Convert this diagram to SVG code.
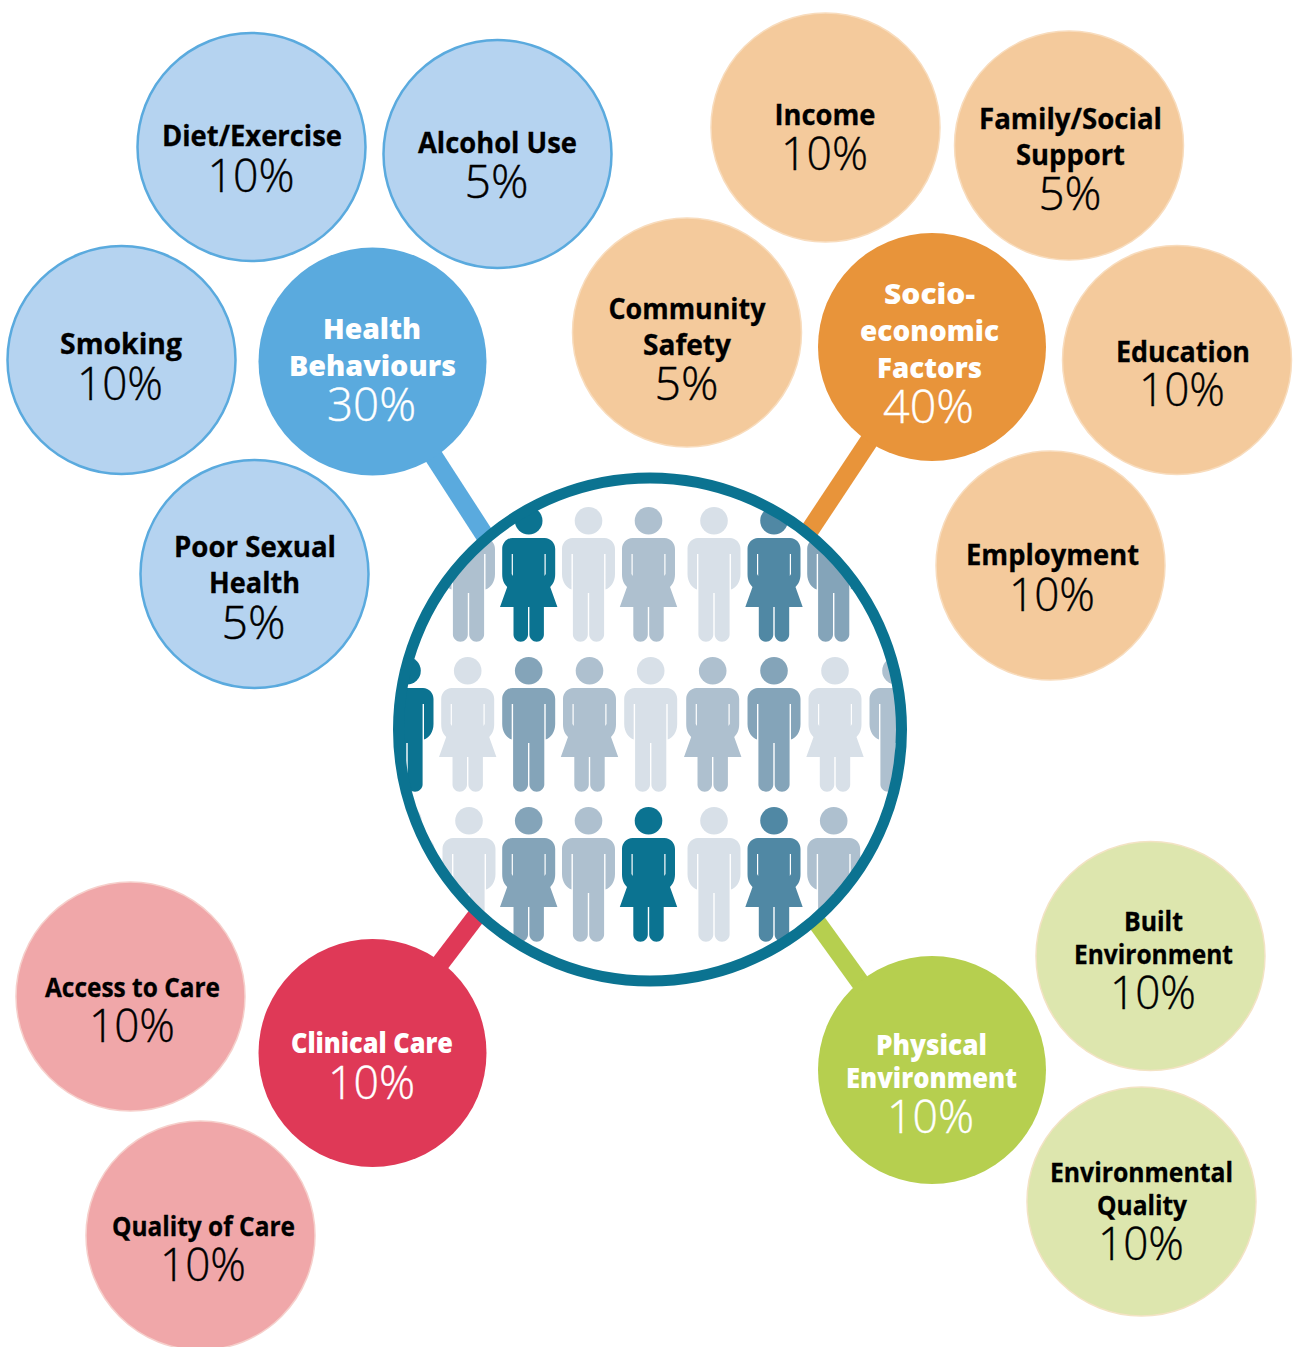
<svg xmlns="http://www.w3.org/2000/svg" xmlns:xlink="http://www.w3.org/1999/xlink" width="1295" height="1347" viewBox="0 0 1295 1347">
<style>
text{text-anchor:middle;font-family:"Open Sans","Noto Sans","Liberation Sans",sans-serif}
.l{font-size:28px;font-weight:700;fill:#000;stroke:#000;stroke-width:.3}
.s{font-size:26px}
.w{font-size:29px;font-weight:800;fill:#fff}
.p{font-size:46px;font-weight:300;fill:#000;stroke:#000;stroke-width:.4}
.pw{font-size:46px;font-weight:300;fill:#fff;stroke:#fff;stroke-width:.4}
.c{stroke-width:18.5;fill:none}
.blue{fill:#B5D3F0;stroke:#5AAADE;stroke-width:2.5}
.org{fill:#F4CA9C;stroke:#F8DCBD;stroke-width:1.5}
.grn{fill:#DDE6AE;stroke:#F3E3C4;stroke-width:1.5}
.red{fill:#F0A7A9;stroke:#F6CFCB;stroke-width:1.5}
.d{fill:#0B7391}.e{fill:#5088A4}.f{fill:#84A4B9}.g{fill:#AEC0CF}.h{fill:#D8E0E8}
</style>
<defs>
<g id="man"><circle cx="0" cy="-17.3" r="13.8"/><path d="M-16,0H16C22,0 26.5,5 26.5,11V36C26.5,44 22,50 17,51.5V16H15.6V96.5C15.6,100.5 12,103.7 8,103.7C4,103.7 .7,100.5 .7,96.5V55H-.7V96.5C-.7,100.5 -4,103.7 -8,103.7C-12,103.7 -15.6,100.5 -15.6,96.5V16H-17V51.5C-22,50 -26.5,44 -26.5,36V11C-26.5,5 -22,0 -16,0Z"/></g>
<g id="woman"><circle cx="0" cy="-17.3" r="13.8"/><path fill-rule="evenodd" d="M-16,0H16C22,0 26.5,5 26.5,11V36C26.5,42 24.5,46 21.5,49L28.7,69H15.2V96.5C15.2,100.5 12,103.7 8,103.7C4,103.7 .7,100.5 .7,96.5V69H-.7V96.5C-.7,100.5 -4,103.7 -8,103.7C-12,103.7 -15.2,100.5 -15.2,96.5V69H-28.7L-21.5,49C-24.5,46 -26.5,42 -26.5,36V11C-26.5,5 -22,0 -16,0ZM-17,16V36L-15.8,38V16ZM15.8,16V38L17,36V16Z"/></g>
<clipPath id="lens"><circle cx="650" cy="729.5" r="248"/></clipPath>
</defs>
<g id="connectors">
<line class="c" stroke="#5AAADE" x1="372" y1="361" x2="500" y2="559"/>
<line class="c" stroke="#E8943A" x1="932" y1="346" x2="800" y2="545"/>
<line class="c" stroke="#DF3957" x1="372" y1="1053" x2="500" y2="885"/>
<line class="c" stroke="#B6CF4F" x1="932" y1="1082" x2="790" y2="885"/>
</g>
<g id="center">
<circle cx="650" cy="729.5" r="250" fill="#fff"/>
<g id="people" clip-path="url(#lens)">
<use href="#man" x="468.5" y="538" class="g"/>
<use href="#woman" x="528.7" y="538" class="d"/>
<use href="#man" x="588.5" y="538" class="h"/>
<use href="#woman" x="648.5" y="538" class="g"/>
<use href="#man" x="714" y="538" class="h"/>
<use href="#woman" x="774" y="538" class="e"/>
<use href="#man" x="833.7" y="538" class="f"/>
<use href="#man" x="407" y="688" class="d"/>
<use href="#woman" x="467.7" y="688" class="h"/>
<use href="#man" x="528.7" y="688" class="f"/>
<use href="#woman" x="589.5" y="688" class="g"/>
<use href="#man" x="650.7" y="688" class="h"/>
<use href="#woman" x="712.7" y="688" class="g"/>
<use href="#man" x="774" y="688" class="f"/>
<use href="#woman" x="835" y="688" class="h"/>
<use href="#man" x="896" y="688" class="g"/>
<use href="#man" x="408" y="838" class="h"/>
<use href="#man" x="469" y="838" class="h"/>
<use href="#woman" x="528.7" y="838" class="f"/>
<use href="#man" x="588.5" y="838" class="g"/>
<use href="#woman" x="648.5" y="838" class="d"/>
<use href="#man" x="714" y="838" class="h"/>
<use href="#woman" x="774" y="838" class="e"/>
<use href="#man" x="833.7" y="838" class="g"/>
</g>
<circle cx="650" cy="729.5" r="251.5" fill="none" stroke="#0B7391" stroke-width="11"/>
</g>
<g id="diet"><circle class="blue" cx="251.5" cy="147" r="114"/><text class="l" x="252" y="146" textLength="180" lengthAdjust="spacingAndGlyphs">Diet/Exercise</text><text class="p" x="251" y="192" textLength="87" lengthAdjust="spacingAndGlyphs">10%</text></g>
<g id="alcohol"><circle class="blue" cx="497.5" cy="154" r="114"/><text class="l" x="497.5" y="153" textLength="159" lengthAdjust="spacingAndGlyphs">Alcohol Use</text><text class="p" x="496.5" y="198" textLength="64" lengthAdjust="spacingAndGlyphs">5%</text></g>
<g id="smoking"><circle class="blue" cx="121.5" cy="360" r="114"/><text class="l" x="121" y="354" textLength="122" lengthAdjust="spacingAndGlyphs">Smoking</text><text class="p" x="120" y="400" textLength="86" lengthAdjust="spacingAndGlyphs">10%</text></g>
<g id="sexual"><circle class="blue" cx="254.5" cy="574" r="114"/><text class="l" x="255" y="557" textLength="162" lengthAdjust="spacingAndGlyphs">Poor Sexual</text><text class="l" x="254.5" y="593" textLength="91" lengthAdjust="spacingAndGlyphs">Health</text><text class="p" x="253.5" y="639" textLength="64" lengthAdjust="spacingAndGlyphs">5%</text></g>
<g id="behaviours"><circle fill="#5AAADE" cx="372.5" cy="361.5" r="114"/><text class="w" x="372" y="339" textLength="98" lengthAdjust="spacingAndGlyphs">Health</text><text class="w" x="372.5" y="376" textLength="167" lengthAdjust="spacingAndGlyphs">Behaviours</text><text class="pw" x="371.5" y="421" textLength="89" lengthAdjust="spacingAndGlyphs">30%</text></g>
<g id="income"><circle class="org" cx="825.5" cy="127.5" r="114.5"/><text class="l" x="825" y="125" textLength="101" lengthAdjust="spacingAndGlyphs">Income</text><text class="p" x="824.5" y="170" textLength="87" lengthAdjust="spacingAndGlyphs">10%</text></g>
<g id="family"><circle class="org" cx="1069" cy="145.5" r="114.5"/><text class="l" x="1070.5" y="129" textLength="183" lengthAdjust="spacingAndGlyphs">Family/Social</text><text class="l" x="1070.5" y="165" textLength="109" lengthAdjust="spacingAndGlyphs">Support</text><text class="p" x="1070" y="210" textLength="63" lengthAdjust="spacingAndGlyphs">5%</text></g>
<g id="community"><circle class="org" cx="687" cy="332.5" r="114.5"/><text class="l" x="687" y="319" textLength="157" lengthAdjust="spacingAndGlyphs">Community</text><text class="l" x="687" y="355" textLength="88" lengthAdjust="spacingAndGlyphs">Safety</text><text class="p" x="686.5" y="400" textLength="64" lengthAdjust="spacingAndGlyphs">5%</text></g>
<g id="socio"><circle fill="#E8943A" cx="932" cy="347" r="114"/><text class="w" x="929.5" y="304" textLength="91" lengthAdjust="spacingAndGlyphs">Socio-</text><text class="w" x="929.5" y="341" textLength="139" lengthAdjust="spacingAndGlyphs">economic</text><text class="w" x="929.5" y="378" textLength="105" lengthAdjust="spacingAndGlyphs">Factors</text><text class="pw" x="928.5" y="423" textLength="91" lengthAdjust="spacingAndGlyphs">40%</text></g>
<g id="education"><circle class="org" cx="1177" cy="360" r="114.5"/><text class="l" x="1183" y="362" textLength="134" lengthAdjust="spacingAndGlyphs">Education</text><text class="p" x="1182" y="406" textLength="86" lengthAdjust="spacingAndGlyphs">10%</text></g>
<g id="employment"><circle class="org" cx="1050.5" cy="565.5" r="114.5"/><text class="l" x="1052.5" y="565" textLength="173" lengthAdjust="spacingAndGlyphs">Employment</text><text class="p" x="1052" y="611" textLength="86" lengthAdjust="spacingAndGlyphs">10%</text></g>
<g id="built"><circle class="grn" cx="1150.5" cy="956" r="114.5"/><text class="l s" x="1153.5" y="931" textLength="59" lengthAdjust="spacingAndGlyphs">Built</text><text class="l s" x="1153.5" y="964" textLength="159" lengthAdjust="spacingAndGlyphs">Environment</text><text class="p" x="1153" y="1009" textLength="86" lengthAdjust="spacingAndGlyphs">10%</text></g>
<g id="quality"><circle class="grn" cx="1141.5" cy="1201.5" r="114.5"/><text class="l s" x="1141.5" y="1182" textLength="183" lengthAdjust="spacingAndGlyphs">Environmental</text><text class="l s" x="1142" y="1215" textLength="90" lengthAdjust="spacingAndGlyphs">Quality</text><text class="p" x="1141" y="1260" textLength="86" lengthAdjust="spacingAndGlyphs">10%</text></g>
<g id="physical"><circle fill="#B6CF4F" cx="932" cy="1070" r="114"/><text class="w s" x="931.5" y="1055" textLength="111" lengthAdjust="spacingAndGlyphs">Physical</text><text class="w s" x="931.5" y="1088" textLength="171" lengthAdjust="spacingAndGlyphs">Environment</text><text class="pw" x="930.5" y="1133" textLength="87" lengthAdjust="spacingAndGlyphs">10%</text></g>
<g id="clinical"><circle fill="#DF3957" cx="372.5" cy="1053" r="114"/><text class="w s" x="372" y="1053" textLength="162" lengthAdjust="spacingAndGlyphs">Clinical Care</text><text class="pw" x="371.5" y="1099" textLength="87" lengthAdjust="spacingAndGlyphs">10%</text></g>
<g id="access"><circle class="red" cx="130.5" cy="996.5" r="114.5"/><text class="l s" x="132.5" y="997" textLength="175" lengthAdjust="spacingAndGlyphs">Access to Care</text><text class="p" x="132" y="1042" textLength="86" lengthAdjust="spacingAndGlyphs">10%</text></g>
<g id="carequality"><circle class="red" cx="200.5" cy="1235.5" r="114.5"/><text class="l s" x="203.5" y="1236" textLength="183" lengthAdjust="spacingAndGlyphs">Quality of Care</text><text class="p" x="203" y="1281" textLength="86" lengthAdjust="spacingAndGlyphs">10%</text></g>
</svg>
